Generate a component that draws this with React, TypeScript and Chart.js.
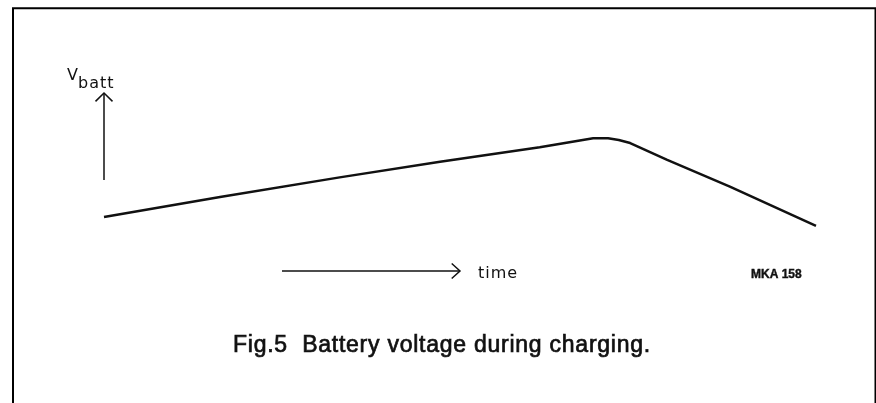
import { useEffect, useRef } from "react";
import { Chart, registerables } from "chart.js";

Chart.register(...registerables);

// Battery voltage curve (time in arbitrary units 0..100, voltage in arbitrary units 0..10)
const timeValues = [0, 16.3, 33.1, 47.2, 61.2, 68.7, 70.8, 72.3, 73.9, 79.1, 87.9, 100];
const voltageValues = [3.03, 4.16, 5.26, 6.14, 6.95, 7.46, 7.46, 7.36, 7.19, 6.24, 4.74, 2.53];

// Axis indicator arrows
const vArrowTime = [0, 0];
const vArrowVolt = [5.11, 10];
const tArrowTime = [25, 50];
const tArrowVolt = [0, 0];

const yLabelMain = "V";
const yLabelSub = "batt";
const xLabel = "time";
const figCode = "MKA 158";
const caption = "Fig.5  Battery voltage during charging.";

const toPoints = (xs: number[], ys: number[]) => xs.map((x, i) => ({ x, y: ys[i] }));

const decorPlugin = {
  id: "decor",
  beforeDraw(chart: any) {
    const ctx = chart.ctx;
    ctx.save();
    ctx.fillStyle = "#ffffff";
    ctx.fillRect(0, 0, chart.width, chart.height);
    // frame (open at the bottom)
    ctx.strokeStyle = "#000";
    ctx.lineWidth = 2;
    ctx.beginPath();
    ctx.moveTo(13, chart.height);
    ctx.lineTo(13, 8.3);
    ctx.lineTo(875.5, 8.3);
    ctx.lineTo(875.5, chart.height);
    ctx.stroke();
    ctx.restore();
  },
  afterDatasetsDraw(chart: any) {
    const ctx = chart.ctx;
    const xs = chart.scales.x;
    const ys = chart.scales.y;
    ctx.save();
    ctx.strokeStyle = "#111";
    ctx.lineWidth = 1.5;
    ctx.lineJoin = "miter";
    // vertical arrow head
    const vx = xs.getPixelForValue(vArrowTime[1]);
    const vy = ys.getPixelForValue(vArrowVolt[1]);
    ctx.beginPath();
    ctx.moveTo(vx - 8.5, vy + 8.4);
    ctx.lineTo(vx, vy);
    ctx.lineTo(vx + 8.5, vy + 8.4);
    ctx.stroke();
    // horizontal arrow head
    const hx = xs.getPixelForValue(tArrowTime[1]);
    const hy = ys.getPixelForValue(tArrowVolt[1]);
    ctx.beginPath();
    ctx.moveTo(hx - 8.3, hy - 7.5);
    ctx.lineTo(hx, hy);
    ctx.lineTo(hx - 8.3, hy + 7.5);
    ctx.stroke();

    ctx.fillStyle = "#111";
    ctx.textBaseline = "alphabetic";
    ctx.textAlign = "left";
    // V_batt label
    ctx.font = "16px 'DejaVu Sans'";
    (ctx as any).letterSpacing = "0px";
    ctx.fillText(yLabelMain, vx - 37, vy - 13);
    ctx.font = "16px 'DejaVu Sans'";
    (ctx as any).letterSpacing = "1px";
    ctx.fillText(yLabelSub, vx - 26, vy - 5);
    // time label
    ctx.font = "16px 'DejaVu Sans'";
    (ctx as any).letterSpacing = "1px";
    ctx.fillText(xLabel, hx + 18, hy + 7);
    // figure code
    ctx.font = "bold 12px 'Liberation Sans'";
    (ctx as any).letterSpacing = "0px";
    ctx.lineWidth = 0.4;
    ctx.fillText(figCode, 751, hy + 7);
    ctx.strokeText(figCode, 751, hy + 7);
    // caption
    ctx.font = "23px 'Liberation Sans'";
    (ctx as any).letterSpacing = "0.75px";
    ctx.lineWidth = 0.7;
    ctx.fillText(caption, 233, 352);
    ctx.strokeText(caption, 233, 352);
    (ctx as any).letterSpacing = "0px";
    ctx.restore();
  },
};

export default function App() {
  const canvasRef = useRef<HTMLCanvasElement | null>(null);

  useEffect(() => {
    if (!canvasRef.current) return;
    const chart = new Chart(canvasRef.current, {
      type: "line",
      data: {
        datasets: [
          {
            data: toPoints(timeValues, voltageValues),
            borderColor: "#111",
            borderWidth: 2.5,
            pointRadius: 0,
            tension: 0,
            borderJoinStyle: "round",
            clip: false as any,
          },
          {
            data: toPoints(vArrowTime, vArrowVolt),
            borderColor: "#111",
            borderWidth: 1.5,
            pointRadius: 0,
            clip: false as any,
          },
          {
            data: toPoints(tArrowTime, tArrowVolt),
            borderColor: "#111",
            borderWidth: 1.5,
            pointRadius: 0,
            clip: false as any,
          },
        ],
      },
      options: {
        responsive: false,
        animation: false,
        devicePixelRatio: 1,
        layout: { padding: { left: 104, right: 60, top: 93, bottom: 132 } },
        scales: {
          x: { type: "linear", min: 0, max: 100, display: false },
          y: { type: "linear", min: 0, max: 10, display: false },
        },
        plugins: {
          legend: { display: false },
          tooltip: { enabled: false },
          title: { display: false },
        },
      },
      plugins: [decorPlugin],
    });
    return () => chart.destroy();
  }, []);

  return (
    <div style={{ position: "absolute", left: 0, top: 0, width: 876, height: 403, background: "#fff" }}>
      <canvas ref={canvasRef} width={876} height={403} style={{ display: "block" }} />
    </div>
  );
}
